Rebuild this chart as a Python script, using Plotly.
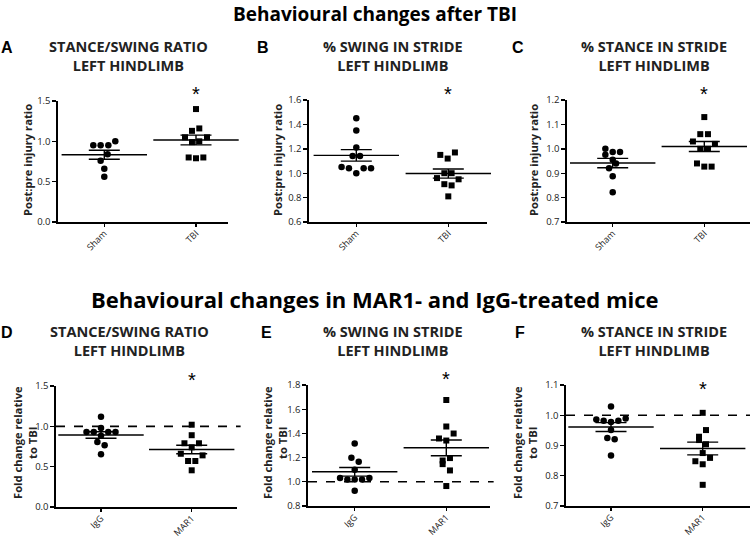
import numpy as np
import plotly.graph_objects as go

# ---------------- data ----------------
groups_top = ["Sham", "TBI"]
groups_bot = ["IgG", "MAR1"]

A_sham = [0.95, 0.95, 0.95, 1.00, 0.84, 0.76, 0.66, 0.56]
A_tbi = [1.40, 1.16, 1.13, 1.05, 1.05, 0.99, 1.00, 0.80, 0.79, 0.80]
B_sham = [1.45, 1.35, 1.21, 1.14, 1.14, 1.05, 1.04, 1.00, 1.04, 1.04]
B_tbi = [1.15, 1.12, 1.17, 1.00, 1.00, 0.96, 0.95, 0.91, 0.90, 0.81]
C_sham = [1.00, 0.976, 0.987, 0.987, 0.955, 0.94, 0.92, 0.887, 0.822]
C_tbi = [1.13, 1.06, 1.06, 1.03, 1.02, 1.00, 1.00, 0.94, 0.927, 0.927]
D_igg = [1.12, 0.98, 0.93, 0.93, 0.93, 0.93, 0.884, 0.806, 0.764, 0.653]
D_mar1 = [1.02, 0.89, 0.79, 0.79, 0.74, 0.66, 0.64, 0.57, 0.57, 0.455]
E_igg = [1.316, 1.198, 1.165, 1.099, 1.031, 1.02, 1.02, 1.02, 1.031, 0.926]
E_mar1 = [1.676, 1.457, 1.399, 1.358, 1.341, 1.196, 1.176, 1.146, 1.094, 0.965]
F_igg = [1.029, 0.986, 0.982, 0.978, 0.982, 0.989, 0.951, 0.925, 0.921, 0.867]
F_mar1 = [1.008, 0.951, 0.929, 0.918, 0.904, 0.875, 0.859, 0.848, 0.838, 0.77]

# horizontal scatter spread of the points (layout only)
A_sham_dx = [-0.12, -0.04, 0.044, 0.12, 0.036, -0.04, 0, 0]
A_tbi_dx = [0, 0.036, -0.044, -0.12, 0.12, -0.044, 0.036, -0.08, 0, 0.08]
B_sham_dx = [0, 0, 0, -0.04, 0.04, -0.16, -0.08, 0, 0.08, 0.16]
B_tbi_dx = [-0.087, -0.007, 0.072, -0.043, 0.036, -0.123, 0.112, -0.043, 0.036, 0]
C_sham_dx = [-0.08, -0.08, 0, 0.08, 0, 0.036, -0.04, 0, 0]
C_tbi_dx = [0, -0.044, 0.04, -0.124, 0.116, -0.044, 0.04, -0.08, 0, 0.08]
D_igg_dx = [0, 0, -0.16, -0.08, 0.08, 0.16, 0, -0.04, 0.04, 0]
D_mar1_dx = [0, 0, -0.08, 0.08, 0, -0.12, 0.12, -0.04, 0.04, 0]
E_igg_dx = [0, -0.036, 0.044, 0, -0.16, -0.08, 0, 0.08, 0.16, 0]
E_mar1_dx = [0, 0, 0.08, -0.08, 0, 0.04, -0.04, -0.04, 0.04, 0]
F_igg_dx = [0, -0.16, -0.08, 0, 0.08, 0.16, 0, -0.04, 0.04, 0]
F_mar1_dx = [0, 0.036, -0.04, -0.04, 0.036, 0, 0.08, -0.08, 0, 0]

panel_letters = ["A", "B", "C", "D", "E", "F"]
panel_titles = ["STANCE/SWING RATIO<br>LEFT HINDLIMB", "% SWING IN STRIDE<br>LEFT HINDLIMB",
                "% STANCE IN STRIDE<br>LEFT HINDLIMB"] * 2
ytitle_top = "Post:pre injury ratio"
ytitle_bot = "Fold change relative<br>to TBI"
main_title_top = "Behavioural changes after TBI"
main_title_bot = "Behavioural changes in MAR1- and IgG-treated mice"

yranges = [(0, 1.5), (0.6, 1.6), (0.7, 1.2), (0, 1.5), (0.8, 1.8), (0.7, 1.1)]
ydticks = [0.5, 0.2, 0.1, 0.5, 0.2, 0.1]
ref_line = [None, None, None, 1.0, 1.0, 1.0]

# ---------------- layout geometry (screen pixels) ----------------
W, H = 750, 536


def fx(p):
    return p / W


def fy(p):
    return 1 - p / H


px_dom = [  # x0, x1, ytop, ybottom
    (58, 228, 101, 222), (309, 487, 100, 222), (567, 750, 100, 222),
    (56, 237, 386, 507), (308, 490, 385, 506), (566, 750, 385, 506)]
centers = [(104.3, 196), (356.3, 448.3), (612.7, 704.3),
           (101, 191.7), (354.7, 446.3), (611, 702.7)]

panels = [
    (groups_top, A_sham, A_tbi, A_sham_dx, A_tbi_dx),
    (groups_top, B_sham, B_tbi, B_sham_dx, B_tbi_dx),
    (groups_top, C_sham, C_tbi, C_sham_dx, C_tbi_dx),
    (groups_bot, D_igg, D_mar1, D_igg_dx, D_mar1_dx),
    (groups_bot, E_igg, E_mar1, E_igg_dx, E_mar1_dx),
    (groups_bot, F_igg, F_mar1, F_igg_dx, F_mar1_dx),
]

FONT = "Open Sans"
fig = go.Figure()
layout = dict(width=W, height=H, margin=dict(l=0, r=0, t=0, b=0, autoexpand=False),
              paper_bgcolor="white", plot_bgcolor="white", showlegend=False,
              annotations=[], shapes=[])

for i, (cats, g1, g2, dx1, dx2) in enumerate(panels):
    n = "" if i == 0 else str(i + 1)
    xa, ya = "x" + n, "y" + n
    x0, x1, yt, yb = px_dom[i]
    c0, c1 = centers[i]
    unit = c1 - c0
    xr = [(x0 - c0) / unit, (x1 - c0) / unit]
    for gi, (vals, dx, sym, sz) in enumerate([(g1, dx1, "circle", 6.5), (g2, dx2, "square", 6)]):
        fig.add_trace(go.Scatter(
            x=[gi + d for d in dx], y=vals, mode="markers", xaxis=xa, yaxis=ya,
            marker=dict(symbol=sym, size=sz, color="black", line=dict(width=0)),
            hoverinfo="y", cliponaxis=False))
        arr = np.array(vals)
        m = arr.mean()
        se = arr.std(ddof=1) / np.sqrt(len(arr))
        fig.add_trace(go.Scatter(
            x=[gi], y=[m], mode="markers", xaxis=xa, yaxis=ya,
            marker=dict(symbol="line-ew-open", size=61, color="black",
                        line=dict(width=1.4, color="black")),
            error_y=dict(type="data", array=[se], visible=True, width=15.5,
                         thickness=1.4, color="black"),
            hoverinfo="skip", cliponaxis=False))
    lo, hi = yranges[i]
    step = ydticks[i]
    tv = list(np.round(np.arange(lo, hi + 1e-9, step), 2))
    layout["xaxis" + n] = dict(
        domain=[fx(x0), min(fx(x1), 1.0)], anchor=ya, range=xr, tickvals=[0, 1], ticktext=cats,
        tickangle=-45, showline=True, linecolor="black", linewidth=1.6, ticks="outside",
        ticklen=3, tickwidth=1.4, tickcolor="black", showgrid=False, zeroline=False,
        ticklabelstandoff=-2,
        automargin=False, tickfont=dict(family=FONT, size=9, color="#222"), fixedrange=True)
    layout["yaxis" + n] = dict(
        domain=[fy(yb), fy(yt)], anchor=xa, range=[lo, hi], tickvals=tv,
        tickformat=".1f", showline=True, linecolor="black", linewidth=1.6, ticks="outside",
        ticklen=4, tickwidth=1.4, tickcolor="black", showgrid=False, zeroline=False,
        automargin=False, tickfont=dict(family=FONT, size=9.5, color="#222"), fixedrange=True)
    if ref_line[i] is not None:
        layout["shapes"].append(dict(type="line", xref=xa + " domain", yref=ya,
                                     x0=0, x1=1.02, y0=ref_line[i], y1=ref_line[i],
                                     line=dict(color="black", width=1.6, dash="dash")))
    # asterisk above second group
    star_y = [94, 94, 94, 380, 379, 389][i]
    layout["annotations"].append(dict(
        text="*", xref="paper", yref="paper", x=fx(c1), y=fy(star_y),
        showarrow=False, font=dict(family="Liberation Sans", size=20, color="black"),
        xanchor="center", yanchor="middle"))
    # panel title
    tcx = [128, 393, 654, 129, 393, 654][i]
    tcy = [56, 56, 56, 341, 341, 341][i]
    layout["annotations"].append(dict(
        text="<b>" + panel_titles[i] + "</b>", xref="paper", yref="paper",
        x=fx(tcx), y=fy(tcy), showarrow=False, xanchor="center", yanchor="middle",
        align="center", font=dict(family=FONT, size=14.5, color="#222")))
    # panel letter
    lx = [7, 263, 518, 7, 266, 520][i]
    ly = [47, 47, 47, 332, 332, 332][i]
    layout["annotations"].append(dict(
        text="<b>" + panel_letters[i] + "</b>", xref="paper", yref="paper",
        x=fx(lx), y=fy(ly), showarrow=False, xanchor="center", yanchor="middle",
        font=dict(family="Liberation Sans", size=16, color="black")))
    # y-axis title
    if i < 3:
        ax_x = [27, 277, 533][i]
        ttxt = ytitle_top
        ay_c = 160
    else:
        ax_x = [25, 275, 525][i - 3]
        ttxt = ytitle_bot
        ay_c = 443
    layout["annotations"].append(dict(
        text="<b>" + ttxt + "</b>", xref="paper", yref="paper", x=fx(ax_x), y=fy(ay_c),
        showarrow=False, textangle=-90, xanchor="center", yanchor="middle", align="center",
        font=dict(family=FONT, size=11.2, color="#222")))

layout["annotations"].append(dict(
    text="<b>" + main_title_top + "</b>", xref="paper", yref="paper", x=fx(375), y=fy(14),
    showarrow=False, xanchor="center", yanchor="middle",
    font=dict(family=FONT, size=19, color="black")))
layout["annotations"].append(dict(
    text="<b>" + main_title_bot + "</b>", xref="paper", yref="paper", x=fx(375), y=fy(299),
    showarrow=False, xanchor="center", yanchor="middle",
    font=dict(family=FONT, size=22, color="black")))

fig.update_layout(**layout)
fig.write_html("out.html", config={"displayModeBar": False, "staticPlot": True},
               post_script="document.body.style.margin='0';document.body.style.overflow='hidden';")
